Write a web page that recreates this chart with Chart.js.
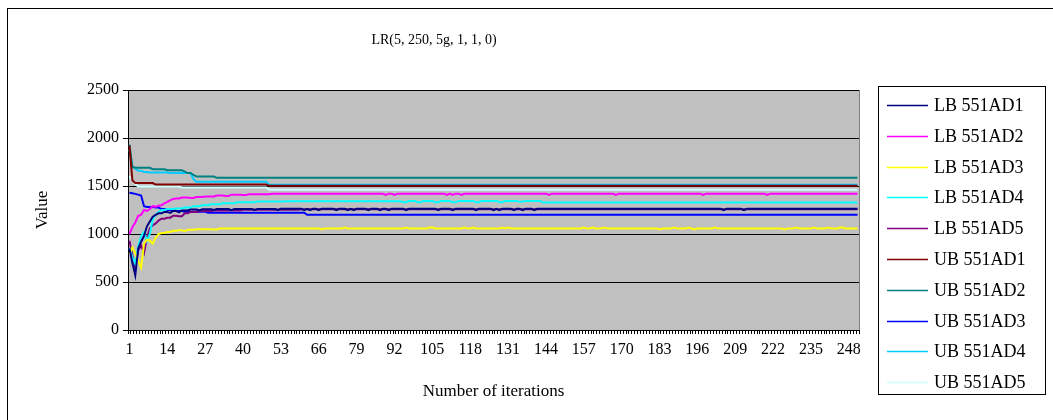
<!DOCTYPE html>
<html>
<head>
<meta charset="utf-8">
<script src="https://cdn.jsdelivr.net/npm/chart.js@4"></script>
<style>
  html, body { margin: 0; padding: 0; background: #fff; }
  #chart { display: block; }
</style>
</head>
<body>
<canvas id="chart" width="1053" height="420"></canvas>
<script>
const ITERATIONS = 251;
const xTickLabels = [1, 14, 27, 40, 53, 66, 79, 92, 105, 118, 131, 144, 157, 170, 183, 196, 209, 222, 235, 248];
const yTicks = [0, 500, 1000, 1500, 2000, 2500];

const seriesNames = ['LB 551AD1', 'LB 551AD2', 'LB 551AD3', 'LB 551AD4', 'LB 551AD5',
                     'UB 551AD1', 'UB 551AD2', 'UB 551AD3', 'UB 551AD4', 'UB 551AD5'];
const seriesColors = ['#000080', '#FF00FF', '#FFFF00', '#00FFFF', '#800080',
                      '#800000', '#008080', '#0000FF', '#00CCFF', '#CCFFFF'];

// [iteration, value] : value holds until the next entry
const lbAd1 = [[1,850],[2,700],[3,570],[4,850],[5,920],[6,980],[7,1080],[8,1130],[9,1180],[10,1200],[11,1215],[13,1230],
  [15,1220],[16,1240],[18,1225],[19,1245],[22,1255],[25,1245],[26,1258],[30,1250],[31,1260],[36,1248],[37,1260],
  [44,1250],[45,1260],[52,1250],[53,1262],[61,1248],[62,1262],[63,1248],[64,1262],[66,1248],[67,1262],[72,1248],
  [73,1262],[76,1248],[77,1262],[78,1248],[79,1262],[83,1248],[84,1262],[87,1248],[88,1262],[90,1248],[91,1262],
  [96,1248],[97,1262],[107,1248],[108,1262],[112,1248],[113,1262],[120,1248],[121,1262],[126,1248],[127,1262],
  [128,1248],[129,1262],[133,1248],[134,1262],[136,1248],[137,1262],[140,1248],[141,1262],[205,1248],[206,1262],
  [212,1248],[213,1262]];
const lbAd2 = [[1,1000],[2,1070],[3,1120],[4,1190],[5,1200],[6,1250],[7,1240],[8,1260],[9,1290],[10,1285],[11,1295],
  [12,1300],[13,1320],[14,1335],[15,1350],[16,1365],[17,1370],[19,1380],[22,1375],[24,1385],[27,1390],[31,1400],
  [34,1395],[36,1410],[40,1405],[42,1415],[50,1420],[89,1408],[90,1420],[92,1408],[93,1420],[110,1408],[111,1420],
  [112,1408],[113,1420],[115,1408],[116,1420],[145,1408],[146,1420],[168,1408],[169,1420],[198,1408],[199,1420],
  [220,1408],[221,1420]];
const lbAd3 = [[1,790],[2,860],[3,800],[4,720],[5,650],[6,900],[7,940],[8,930],[9,900],[10,960],[11,1000],[12,1010],
  [14,1020],[16,1035],[18,1040],[20,1030],[21,1045],[24,1050],[30,1048],[32,1058],[67,1048],[68,1058],[75,1068],
  [76,1058],[96,1068],[97,1058],[104,1068],[106,1058],[116,1068],[117,1058],[119,1068],[120,1058],[129,1068],
  [130,1058],[131,1068],[132,1058],[157,1068],[158,1058],[160,1068],[161,1058],[164,1068],[165,1058],[183,1048],
  [184,1058],[188,1068],[189,1058],[193,1068],[194,1058],[195,1048],[196,1058],[202,1068],[203,1058],[226,1048],
  [227,1058],[230,1068],[231,1058],[236,1068],[237,1058],[241,1068],[242,1058],[245,1068],[247,1058]];
const lbAd4 = [[1,850],[2,760],[3,690],[4,870],[5,980],[6,1020],[7,930],[8,1000],[9,1150],[10,1200],[11,1230],
  [12,1250],[14,1260],[17,1265],[20,1275],[23,1290],[26,1300],[29,1310],[33,1320],[38,1330],[45,1338],[55,1342],
  [95,1332],[97,1345],[100,1330],[102,1345],[106,1330],[108,1345],[112,1332],[114,1345],[120,1332],[122,1345],
  [128,1332],[130,1345],[135,1335],[137,1345],[143,1328]];
const lbAd5 = [[1,930],[2,780],[3,650],[4,830],[5,880],[6,800],[7,960],[8,1060],[9,1090],[10,1110],[11,1140],
  [12,1160],[14,1170],[16,1190],[18,1185],[20,1215],[22,1230],[25,1240],[30,1245],[40,1252],[60,1258]];
const ubAd1 = [[1,1920],[2,1560],[3,1530],[10,1515],[49,1502]];
const ubAd2 = [[1,1930],[2,1700],[3,1690],[9,1675],[14,1665],[20,1650],[21,1635],[23,1615],[24,1598],[31,1585]];
const ubAd3 = [[1,1430],[2,1425],[3,1418],[4,1410],[5,1400],[6,1290],[7,1282],[10,1275],[12,1260],[14,1250],
  [17,1240],[20,1232],[28,1222],[62,1200]];
const ubAd4 = [[1,1880],[2,1700],[3,1680],[4,1660],[6,1645],[8,1640],[15,1635],[23,1570],[24,1545],[49,1512]];
const ubAd5 = [[1,1600],[2,1560],[3,1520],[4,1495],[19,1485],[49,1462]];

const seriesSteps = [lbAd1, lbAd2, lbAd3, lbAd4, lbAd5, ubAd1, ubAd2, ubAd3, ubAd4, ubAd5];

function expandSteps(steps) {
    const out = [];
    let k = 0;
    for (let i = 1; i <= ITERATIONS; i++) {
        while (k + 1 < steps.length && steps[k + 1][0] <= i) k++;
        out.push(steps[k][1]);
    }
    return out;
}

const labels = [];
for (let i = 1; i <= ITERATIONS; i++) labels.push(i);

const SERIF = '"Liberation Serif", "Times New Roman", serif';

const chartFrame = {
    id: 'chartFrame',
    beforeDraw(chart) {
        const { ctx, chartArea: a } = chart;
        ctx.save();
        ctx.fillStyle = '#fff';
        ctx.fillRect(0, 0, chart.width, chart.height);
        ctx.fillStyle = '#C0C0C0';
        ctx.fillRect(a.left, a.top, a.right - a.left, a.bottom - a.top);
        ctx.strokeStyle = '#000';
        ctx.lineWidth = 1;
        ctx.strokeRect(7.5, 8.5, 1100, 500);
        ctx.fillStyle = '#000';
        ctx.font = '14px ' + SERIF;
        ctx.textAlign = 'center';
        ctx.textBaseline = 'middle';
        ctx.fillText('LR(5, 250, 5g, 1, 1, 0)', 434, 40);
        ctx.restore();
    },
    afterDraw(chart) {
        const { ctx, chartArea: a } = chart;
        ctx.save();
        ctx.strokeStyle = '#808080';
        ctx.lineWidth = 1;
        ctx.beginPath();
        ctx.moveTo(a.right + 0.5, a.top);
        ctx.lineTo(a.right + 0.5, a.bottom);
        ctx.stroke();

        // legend box
        ctx.strokeStyle = '#000';
        ctx.strokeRect(878.5, 86.5, 167, 308);
        ctx.font = '18px ' + SERIF;
        ctx.textAlign = 'left';
        ctx.textBaseline = 'middle';
        chart.data.datasets.forEach(function (ds, i) {
            const y = Math.round(105 + i * 30.8) + 0.5;
            ctx.strokeStyle = ds.borderColor;
            ctx.lineWidth = 1.5;
            ctx.beginPath();
            ctx.moveTo(887, y);
            ctx.lineTo(928, y);
            ctx.stroke();
            ctx.fillStyle = '#000';
            ctx.fillText(ds.label, 934, y + 1);
        });
        ctx.restore();
    }
};

new Chart(document.getElementById('chart').getContext('2d'), {
    type: 'line',
    data: {
        labels: labels,
        datasets: seriesNames.map(function (name, i) {
            return {
                label: name,
                data: expandSteps(seriesSteps[i]),
                borderColor: seriesColors[i],
                backgroundColor: seriesColors[i],
                borderWidth: 2,
                pointRadius: 0,
                fill: false,
                tension: 0
            };
        })
    },
    plugins: [chartFrame],
    options: {
        responsive: false,
        animation: false,
        layout: { padding: { top: 90, right: 194, bottom: 0, left: 0 } },
        plugins: {
            legend: { display: false },
            title: { display: false },
            tooltip: { enabled: false }
        },
        scales: {
            x: {
                type: 'category',
                offset: true,
                grid: { offset: true, drawOnChartArea: false, color: '#000', tickLength: 4 },
                border: { color: '#000' },
                ticks: {
                    autoSkip: false,
                    maxRotation: 0,
                    minRotation: 0,
                    padding: 6,
                    color: '#000',
                    font: { family: SERIF, size: 16 },
                    callback: function (value) {
                        const lab = this.getLabelForValue(value);
                        return xTickLabels.includes(lab) ? String(lab) : '';
                    }
                },
                title: {
                    display: true,
                    text: 'Number of iterations',
                    color: '#000',
                    font: { family: SERIF, size: 17 },
                    padding: { top: 0, bottom: 18 }
                },
                afterFit: function (scale) { scale.height = 90; }
            },
            y: {
                min: 0,
                max: 2500,
                afterBuildTicks: function (scale) {
                    scale.ticks = yTicks.map(function (v) { return { value: v }; });
                },
                grid: { color: '#000', tickLength: 5 },
                border: { color: '#000' },
                ticks: {
                    padding: 4,
                    color: '#000',
                    font: { family: SERIF, size: 16 },
                    callback: function (value) { return String(value); }
                },
                title: {
                    display: true,
                    text: 'Value',
                    color: '#000',
                    font: { family: SERIF, size: 17 },
                    padding: { top: 32, bottom: 0 }
                },
                afterFit: function (scale) { scale.width = 128; }
            }
        }
    }
});
</script>
</body>
</html>
